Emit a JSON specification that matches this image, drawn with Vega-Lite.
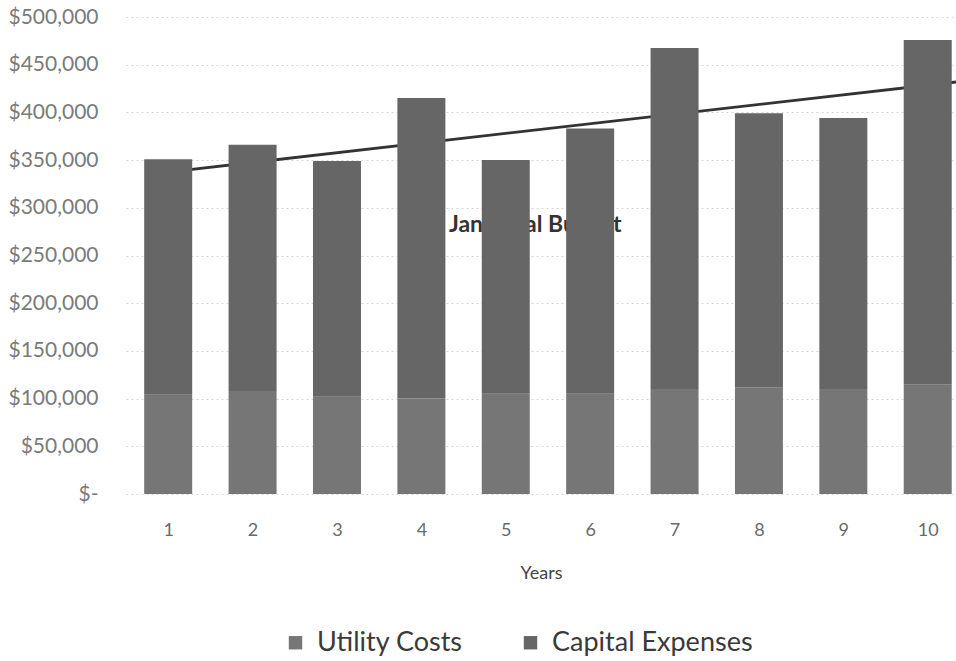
{
  "$schema": "https://vega.github.io/schema/vega-lite/v6.json",
  "width": 830,
  "height": 477,
  "autosize": {"type": "none"},
  "padding": {"left": 126, "top": 17, "right": 0, "bottom": 167},
  "background": "white",
  "config": {"view": {"stroke": null}, "font": "Lato"},
  "datasets": {
    "costs": [
      {"year": 1, "series": "Utility Costs", "value": 104000},
      {"year": 2, "series": "Utility Costs", "value": 108000},
      {"year": 3, "series": "Utility Costs", "value": 102000},
      {"year": 4, "series": "Utility Costs", "value": 100000},
      {"year": 5, "series": "Utility Costs", "value": 105000},
      {"year": 6, "series": "Utility Costs", "value": 105000},
      {"year": 7, "series": "Utility Costs", "value": 110000},
      {"year": 8, "series": "Utility Costs", "value": 112000},
      {"year": 9, "series": "Utility Costs", "value": 110000},
      {"year": 10, "series": "Utility Costs", "value": 115000},
      {"year": 1, "series": "Capital Expenses", "value": 247000},
      {"year": 2, "series": "Capital Expenses", "value": 258000},
      {"year": 3, "series": "Capital Expenses", "value": 247000},
      {"year": 4, "series": "Capital Expenses", "value": 315000},
      {"year": 5, "series": "Capital Expenses", "value": 245000},
      {"year": 6, "series": "Capital Expenses", "value": 278000},
      {"year": 7, "series": "Capital Expenses", "value": 357500},
      {"year": 8, "series": "Capital Expenses", "value": 287000},
      {"year": 9, "series": "Capital Expenses", "value": 284000},
      {"year": 10, "series": "Capital Expenses", "value": 361000}
    ],
    "trend": [
      {"year": 1, "value": 337500},
      {"year": 10.335, "value": 431900}
    ],
    "label": [
      {"text": "Janitorial Budget"}
    ]
  },
  "layer": [
    {
      "data": {"name": "label"},
      "mark": {"type": "text", "fontSize": 23, "fontWeight": "bold", "color": "#333333", "align": "center", "baseline": "middle"},
      "encoding": {
        "text": {"field": "text"},
        "x": {
          "datum": 5.35, "type": "quantitative",
          "scale": {"domain": [0.5, 10.335], "nice": false, "zero": false, "padding": 0},
          "axis": {
            "title": "Years", "values": [1,2,3,4,5,6,7,8,9,10], "format": "d",
            "labelFontSize": 18, "labelColor": "#6a6a6a", "labelPadding": 27,
            "ticks": false, "domain": false, "grid": false, "labelAngle": 0,
            "titleFontSize": 18, "titleFontWeight": "normal", "titleColor": "#444444", "titlePadding": 25
          }
        },
        "y": {
          "datum": 282000, "type": "quantitative",
          "scale": {"domain": [0, 500000], "nice": false},
          "axis": {
            "title": null,
            "values": [0,50000,100000,150000,200000,250000,300000,350000,400000,450000,500000],
            "labelExpr": "datum.value === 0 ? '$-' : format(datum.value, '$,.0f')",
            "labelFontSize": 21, "labelColor": "#7a7a7a", "labelPadding": 28,
            "ticks": false, "domain": false, "grid": true,
            "gridColor": "#d6d6d6", "gridDash": [2, 3], "gridWidth": 1
          }
        }
      }
    },
    {
      "data": {"name": "trend"},
      "mark": {"type": "line", "color": "#333333", "strokeWidth": 2.8},
      "encoding": {
        "x": {"field": "year", "type": "quantitative"},
        "y": {"field": "value", "type": "quantitative"}
      }
    },
    {
      "data": {"name": "costs"},
      "mark": {"type": "bar", "width": 48},
      "encoding": {
        "x": {"field": "year", "type": "quantitative"},
        "y": {"field": "value", "type": "quantitative", "stack": "zero"},
        "order": {"field": "series", "sort": "descending"},
        "color": {
          "field": "series", "type": "nominal",
          "scale": {"domain": ["Utility Costs", "Capital Expenses"], "range": ["#767676", "#666666"]},
          "legend": {
            "title": null, "orient": "none", "direction": "horizontal",
            "legendX": 156, "legendY": 612,
            "labelFontSize": 27, "labelColor": "#3a3a3a", "labelLimit": 0,
            "symbolType": "square", "symbolSize": 180, "symbolStrokeWidth": 0,
            "symbolFillColor": "#808080",
            "columnPadding": 54, "labelOffset": 8
          }
        }
      }
    }
  ]
}
